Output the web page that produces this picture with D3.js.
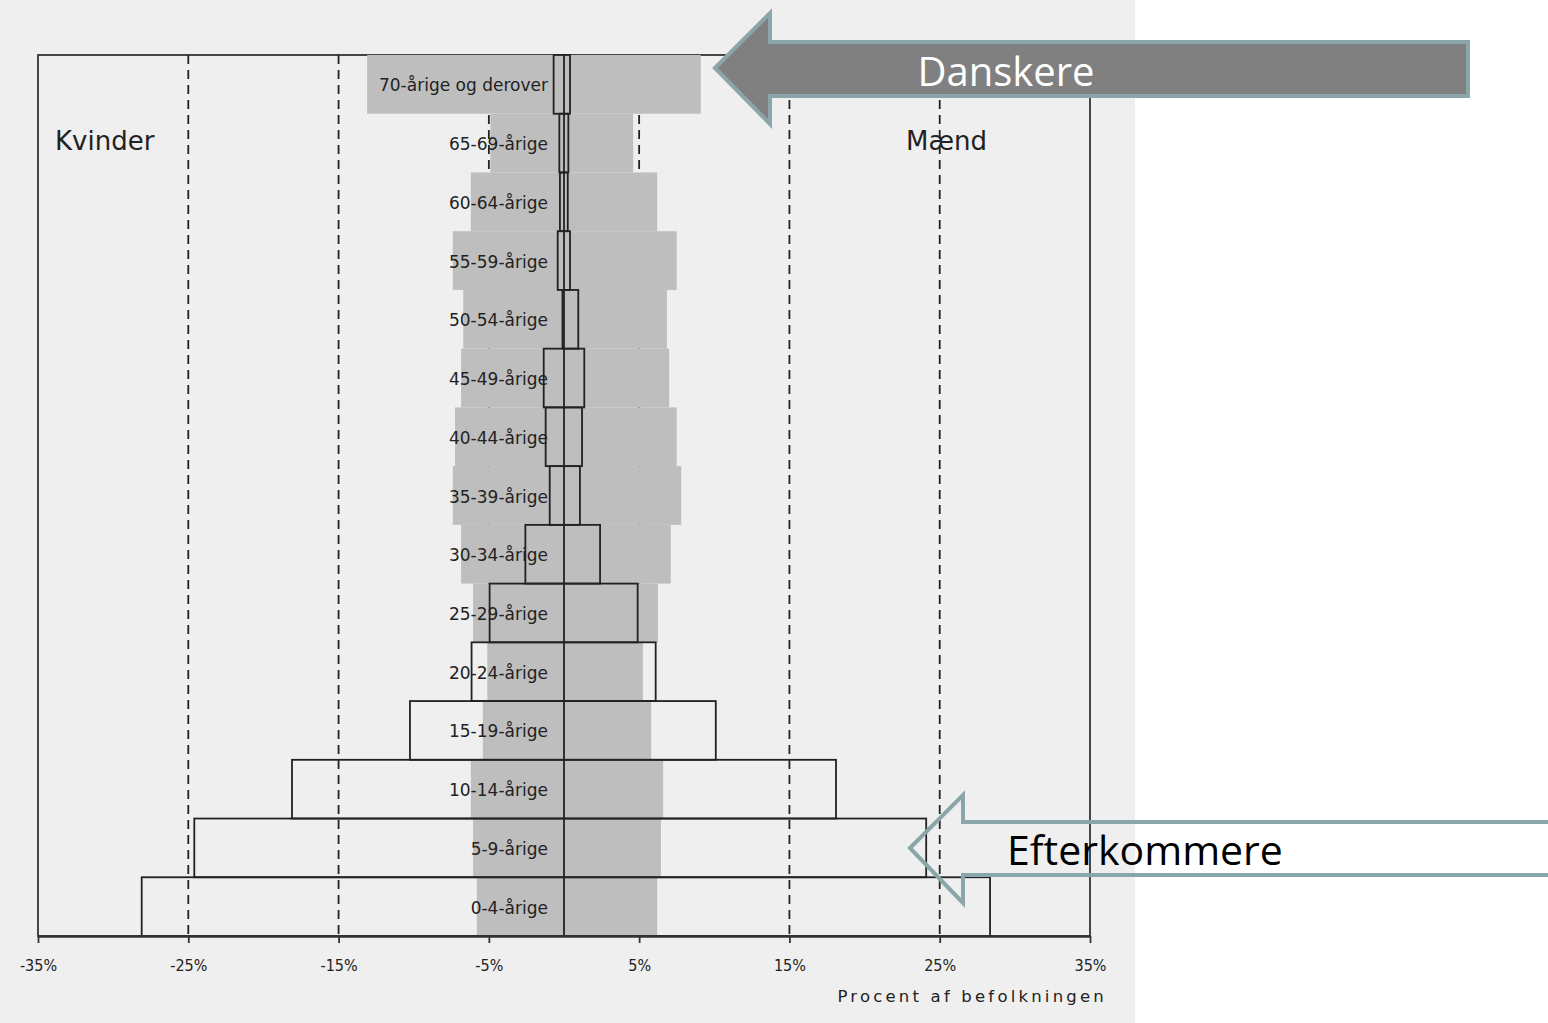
<!DOCTYPE html>
<html>
<head>
<meta charset="utf-8">
<script src="https://d3js.org/d3.v7.min.js"></script>
<style>
  body { margin: 0; background: #fff; }
  svg { display: block; }
  .aText { font-family: "DejaVu Sans", sans-serif; fill: #222; }
</style>
</head>
<body>
<div id="chart"></div>
<script>
// Aldersgrupper, nederst til øverst
var ageGroups = ["0-4-årige", "5-9-årige", "10-14-årige", "15-19-årige", "20-24-årige",
  "25-29-årige", "30-34-årige", "35-39-årige", "40-44-årige", "45-49-årige",
  "50-54-årige", "55-59-årige", "60-64-årige", "65-69-årige", "70-årige og derover"];

// Danskere (grå), procent af befolkningen
var danskereKvinder = [5.8, 6.05, 6.2, 5.4, 5.1, 6.05, 6.85, 7.4, 7.25, 6.85, 6.7, 7.4, 6.2, 4.9, 13.1];
var danskereMaend   = [6.2, 6.45, 6.6, 5.8, 5.25, 6.25, 7.1, 7.8, 7.5, 7.0, 6.85, 7.5, 6.2, 4.6, 9.1];

// Efterkommere (omrids)
var efterKvinder = [28.1, 24.6, 18.1, 10.25, 6.15, 4.95, 2.57, 0.95, 1.22, 1.35, 0.1, 0.42, 0.27, 0.31, 0.69];
var efterMaend   = [28.35, 24.1, 18.1, 10.1, 6.1, 4.9, 2.4, 1.06, 1.2, 1.35, 0.95, 0.4, 0.25, 0.29, 0.4];

var tickValues = [-35, -25, -15, -5, 5, 15, 25, 35];
var gridValues = [-25, -15, -5, 5, 15, 25];

var svgWidth = 1548;
var svgHeight = 1023;

var margin = { top: 55, right: 458, bottom: 87, left: 38 };

var svg = d3.select("#chart")
  .append("svg")
  .attr("width", svgWidth)
  .attr("height", svgHeight);

// grå baggrund bag selve diagrammet
svg.append("rect")
  .attr("x", 0).attr("y", 0)
  .attr("width", 1135).attr("height", svgHeight)
  .attr("fill", "#efefef");

var x = d3.scaleLinear()
  .domain([-35, 35])
  .range([margin.left, svgWidth - margin.right]);

var y = d3.scaleBand()
  .domain(ageGroups.slice().reverse())
  .range([margin.top, svgHeight - margin.bottom])
  .padding(0);

var rows = ageGroups.map(function(a, i) {
  return {
    age: a,
    dk: danskereKvinder[i], dm: danskereMaend[i],
    ek: efterKvinder[i], em: efterMaend[i]
  };
});

// ramme
svg.append("rect")
  .attr("x", x(-35)).attr("y", y.range()[0])
  .attr("width", x(35) - x(-35))
  .attr("height", y.range()[1] - y.range()[0])
  .attr("fill", "none")
  .attr("stroke", "#333")
  .attr("stroke-width", 1.8);

// stiplede gitterlinjer
svg.append("g")
  .selectAll("line")
  .data(gridValues)
  .enter()
  .append("line")
  .attr("x1", function(d) { return x(d); })
  .attr("x2", function(d) { return x(d); })
  .attr("y1", y.range()[0])
  .attr("y2", y.range()[1])
  .attr("stroke", "#222")
  .attr("stroke-width", 1.8)
  .attr("stroke-dasharray", "9,6");

// Danskere - grå bjælker
svg.append("g")
  .selectAll("rect")
  .data(rows)
  .enter()
  .append("rect")
  .attr("x", function(d) { return x(-d.dk); })
  .attr("y", function(d) { return y(d.age); })
  .attr("width", function(d) { return x(d.dm) - x(-d.dk); })
  .attr("height", y.bandwidth())
  .attr("fill", "#bebebe");

// midterlinje
svg.append("line")
  .attr("x1", x(0)).attr("x2", x(0))
  .attr("y1", y.range()[0]).attr("y2", y.range()[1])
  .attr("stroke", "#222")
  .attr("stroke-width", 1.8);

// Efterkommere - omrids
svg.append("g")
  .selectAll("rect")
  .data(rows)
  .enter()
  .append("rect")
  .attr("x", function(d) { return x(-d.ek); })
  .attr("y", function(d) { return y(d.age); })
  .attr("width", function(d) { return x(d.em) - x(-d.ek); })
  .attr("height", y.bandwidth())
  .attr("fill", "none")
  .attr("stroke", "#222")
  .attr("stroke-width", 1.8);

// aldersetiketter
svg.append("g")
  .selectAll("text")
  .data(rows)
  .enter()
  .append("text")
  .attr("class", "aText")
  .attr("x", x(-1.07))
  .attr("y", function(d) { return y(d.age) + y.bandwidth() / 2 + 1; })
  .attr("text-anchor", "end")
  .attr("dominant-baseline", "central")
  .attr("font-size", 17)
  .text(function(d) { return d.age; });

// x-akse
var xAxis = d3.axisBottom(x)
  .tickValues(tickValues)
  .tickFormat(function(d) { return d + "%"; })
  .tickSize(7)
  .tickSizeOuter(0)
  .tickPadding(17);

var axisG = svg.append("g")
  .attr("transform", "translate(0," + y.range()[1] + ")")
  .call(xAxis);

axisG.select(".domain").attr("stroke", "#333").attr("stroke-width", 2.5);
axisG.selectAll(".tick line").attr("stroke", "#333").attr("stroke-width", 1.8);
axisG.selectAll(".tick text")
  .attr("font-family", "DejaVu Sans Condensed, DejaVu Sans, sans-serif")
  .attr("font-size", 16)
  .attr("fill", "#222");

svg.append("text")
  .attr("class", "aText")
  .attr("x", 1107)
  .attr("y", 1002)
  .attr("text-anchor", "end")
  .attr("font-family", "DejaVu Sans Condensed, DejaVu Sans, sans-serif")
  .attr("font-size", 16.5)
  .attr("letter-spacing", 3.2)
  .text("Procent af befolkningen");

// Kvinder / Mænd
svg.append("text")
  .attr("class", "aText")
  .attr("x", 55).attr("y", 150)
  .attr("font-size", 26)
  .attr("fill", "#333")
  .text("Kvinder");

svg.append("text")
  .attr("class", "aText")
  .attr("x", 906).attr("y", 150)
  .attr("font-size", 26)
  .attr("fill", "#333")
  .text("Mænd");

// pile med forklaringer
var arrowStroke = "#8aa6a8";

var danskerePts = [[715, 68], [770, 13], [770, 42], [1468, 42], [1468, 96], [770, 96], [770, 124]];
svg.append("polygon")
  .attr("points", danskerePts.map(function(p) { return p.join(","); }).join(" "))
  .attr("fill", "#808080")
  .attr("stroke", arrowStroke)
  .attr("stroke-width", 4);

svg.append("text")
  .attr("x", 1006).attr("y", 86)
  .attr("text-anchor", "middle")
  .attr("font-family", "Open Sans, sans-serif")
  .attr("font-size", 40)
  .attr("fill", "#fff")
  .text("Danskere");

var efterPts = [[910, 848], [963, 795], [963, 822], [1560, 822], [1560, 875], [963, 875], [963, 903]];
svg.append("polygon")
  .attr("points", efterPts.map(function(p) { return p.join(","); }).join(" "))
  .attr("fill", "none")
  .attr("stroke", arrowStroke)
  .attr("stroke-width", 4);

svg.append("text")
  .attr("x", 1007).attr("y", 865)
  .attr("font-family", "Open Sans, sans-serif")
  .attr("font-size", 41)
  .attr("fill", "#000")
  .text("Efterkommere");
</script>
</body>
</html>
